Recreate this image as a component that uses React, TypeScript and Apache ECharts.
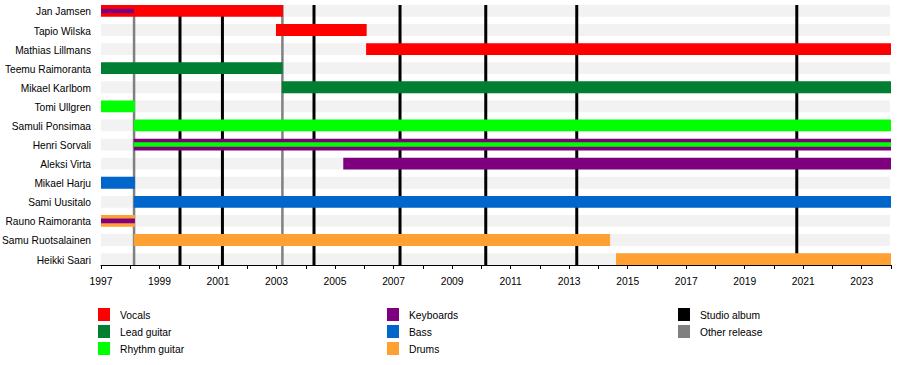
import React, { useEffect, useRef } from "react";
import * as echarts from "echarts";

const members = [
  "Jan Jamsen",
  "Tapio Wilska",
  "Mathias Lillmans",
  "Teemu Raimoranta",
  "Mikael Karlbom",
  "Tomi Ullgren",
  "Samuli Ponsimaa",
  "Henri Sorvali",
  "Aleksi Virta",
  "Mikael Harju",
  "Sami Uusitalo",
  "Rauno Raimoranta",
  "Samu Ruotsalainen",
  "Heikki Saari",
];

const roles = ["Vocals", "Lead guitar", "Rhythm guitar", "Keyboards", "Bass", "Drums"];
const roleColors = ["#ff0000", "#007f33", "#00ff00", "#7f007f", "#0066cc", "#ffa033"];

const START = 1997;
const END = 2024;

// [memberIndex, start, end, roleIndex, thin(0/1)]
const tenures: number[][] = [
  [0, 1997, 2003.22, 0, 0],
  [1, 2002.98, 2006.08, 0, 0],
  [2, 2006.06, END, 0, 0],
  [3, 1997, 2003.21, 1, 0],
  [4, 2003.18, END, 1, 0],
  [5, 1997, 1998.16, 2, 0],
  [6, 1998.12, END, 2, 0],
  [7, 1998.12, END, 3, 0],
  [8, 2005.28, END, 3, 0],
  [9, 1997, 1998.16, 4, 0],
  [10, 1998.12, END, 4, 0],
  [11, 1997, 1998.16, 5, 0],
  [12, 1998.12, 2014.4, 5, 0],
  [13, 2014.6, END, 5, 0],
];
const secondaryRoles: number[][] = [
  [0, 1997, 1998.13, 3, 1],
  [7, 1998.12, END, 2, 1],
  [11, 1997, 1998.16, 3, 1],
];

const studioAlbums = [1999.7, 2001.15, 2004.28, 2007.22, 2010.15, 2013.26, 2020.78];
const otherReleases = [1998.13, 2003.2];

const releaseNames = ["Studio album", "Other release"];
const releaseColors = ["#000000", "#808080"];

const FONT = "Liberation Sans, Arial, sans-serif";

export default function App() {
  const ref = useRef<HTMLDivElement>(null);

  useEffect(() => {
    if (!ref.current) return;
    const chart = echarts.init(ref.current, undefined, { renderer: "svg" });

    const gridLeft = 101;
    const gridTop = 5;
    const gridWidth = 790;
    const gridHeight = 260;

    const barRender = (params: any, api: any) => {
      const row = api.value(0);
      const s = api.value(1);
      const e = api.value(2);
      const role = api.value(3);
      const thin = api.value(4);
      const p0 = api.coord([s, row]);
      const p1 = api.coord([e, row]);
      const h = api.size([0, thin ? 0.24 : 0.62])[1];
      return {
        type: "rect",
        shape: { x: p0[0], y: p0[1] - h / 2, width: p1[0] - p0[0], height: h },
        style: { fill: roleColors[role] },
      };
    };

    // legend graphics
    const legendItems: { name: string; color: string; col: number; row: number }[] = [];
    roles.forEach((r, i) =>
      legendItems.push({ name: r, color: roleColors[i], col: Math.floor(i / 3), row: i % 3 })
    );
    releaseNames.forEach((r, i) =>
      legendItems.push({ name: r, color: releaseColors[i], col: 2, row: i })
    );
    const colX = [98, 387, 678];
    const graphic: any[] = [];
    legendItems.forEach((it) => {
      const x = colX[it.col];
      const y = 308 + it.row * 17;
      graphic.push({
        type: "rect",
        left: x,
        top: y,
        shape: { width: 12, height: 13 },
        style: { fill: it.color },
      });
      graphic.push({
        type: "text",
        x: x + 22,
        y: y + 7.5,
        style: {
          text: it.name,
          fill: "#000",
          font: `10.3px ${FONT}`,
          verticalAlign: "middle",
          align: "left",
        },
      });
    });

    chart.setOption({
      animation: false,
      grid: { left: gridLeft, top: gridTop, width: gridWidth, height: gridHeight },
      xAxis: {
        type: "value",
        position: "bottom",
        min: START,
        max: END,
        interval: 1,
        axisLine: { show: true, onZero: false, lineStyle: { color: "#000", width: 1 } },
        axisTick: { show: true, length: 4, lineStyle: { color: "#000" } },
        axisLabel: {
          color: "#000",
          fontFamily: FONT,
          fontSize: 10.3,
          margin: 11,
          formatter: (v: number) => ((v - START) % 2 === 0 ? String(v) : ""),
        },
        splitLine: { show: false },
      },
      yAxis: {
        type: "value",
        inverse: true,
        min: -0.31,
        max: 13.31,
        show: false,
        axisLine: { onZero: false },
        splitLine: { show: false },
      },
      graphic,
      series: [
        {
          type: "custom",
          z: 1,
          silent: true,
          data: members.map((_, i) => [i]),
          encode: { y: 0 },
          renderItem: (params: any, api: any) => {
            const row = api.value(0);
            const p0 = api.coord([START, row]);
            const p1 = api.coord([END, row]);
            const h = api.size([0, 0.62])[1];
            return {
              type: "rect",
              shape: { x: p0[0], y: p0[1] - h / 2, width: p1[0] - p0[0] - 1, height: h },
              style: { fill: "#f2f2f2" },
            };
          },
        },
        {
          type: "custom",
          z: 1,
          silent: true,
          data: members.map((_, i) => [i]),
          encode: { y: 0 },
          renderItem: (params: any, api: any) => {
            const row = api.value(0);
            const p0 = api.coord([START, row]);
            return {
              type: "text",
              x: p0[0] - 10,
              y: p0[1] + 1,
              style: {
                text: members[row],
                fill: "#000",
                font: `10.2px ${FONT}`,
                align: "right",
                verticalAlign: "middle",
              },
            };
          },
        },
        {
          type: "custom",
          z: 2,
          silent: true,
          data: [
            ...studioAlbums.map((d) => [d, 0]),
            ...otherReleases.map((d) => [d, 1]),
          ],
          encode: { x: 0 },
          renderItem: (params: any, api: any) => {
            const x = api.coord([api.value(0), 0])[0];
            const cs = params.coordSys;
            const kind = api.value(1);
            return {
              type: "line",
              shape: { x1: x, y1: cs.y, x2: x, y2: cs.y + cs.height },
              style: { stroke: releaseColors[kind], lineWidth: kind === 0 ? 3 : 2.5 },
            };
          },
        },
        {
          type: "custom",
          z: 3,
          silent: true,
          data: tenures,
          encode: { x: [1, 2], y: 0 },
          renderItem: barRender,
        },
        {
          type: "custom",
          z: 4,
          silent: true,
          data: secondaryRoles,
          encode: { x: [1, 2], y: 0 },
          renderItem: barRender,
        },
      ],
    });

    return () => chart.dispose();
  }, []);

  return (
    <div
      ref={ref}
      style={{ position: "fixed", left: 0, top: 0, width: 900, height: 365, background: "#fff" }}
    />
  );
}
